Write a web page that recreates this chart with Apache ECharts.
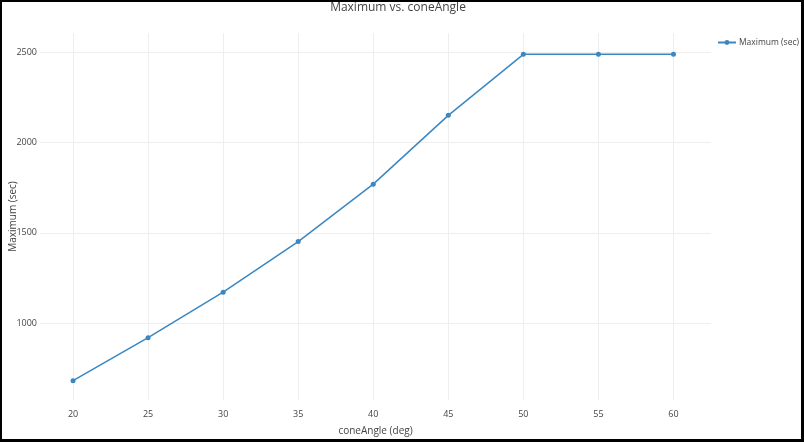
<!DOCTYPE html>
<html>
<head>
<meta charset="utf-8">
<script src="https://cdn.jsdelivr.net/npm/echarts@6/dist/echarts.min.js"></script>
<style>
  html, body { margin: 0; padding: 0; background: #fff; }
  #frame { width: 804px; height: 442px; box-sizing: border-box; border-style: solid; border-color: #000; border-width: 2px 3px 3px 2px; }
  #chart { width: 799px; height: 437px; }
</style>
</head>
<body>
<div id="frame"><div id="chart"></div></div>
<script>
var coneAngle = [20, 25, 30, 35, 40, 45, 50, 55, 60];
var maximumSec = [682, 920, 1172, 1452, 1770, 2151, 2489, 2489, 2489];
var xTicks = [20, 25, 30, 35, 40, 45, 50, 55, 60];
var yTicks = [1000, 1500, 2000, 2500];

var chart = echarts.init(document.getElementById('chart'));

var seriesData = [];
for (var i = 0; i < coneAngle.length; i++) {
  seriesData.push([coneAngle[i], maximumSec[i]]);
}

var plainNum = function (v) { return String(v); };

var option = {
  animation: false,
  textStyle: { fontFamily: 'Open Sans' },
  title: {
    text: 'Maximum vs. coneAngle',
    left: 396,
    textAlign: 'center',
    top: 0,
    padding: [0, 0, 0, 0],
    textStyle: { fontSize: 12, fontWeight: 'normal', color: '#444' }
  },
  legend: {
    data: ['Maximum (sec)'],
    right: 0,
    top: 36,
    padding: [0, 2, 0, 0],
    itemWidth: 18,
    itemHeight: 6,
    itemGap: 4,
    textStyle: { fontSize: 8.5, color: '#444', padding: [0, 0, 0, -2] }
  },
  grid: {
    left: 38,
    right: 90,
    top: 31,
    bottom: 39,
    containLabel: false,
    outerBoundsMode: 'none'
  },
  xAxis: {
    type: 'value',
    min: 17.8,
    max: 62.5,
    name: 'coneAngle (deg)',
    nameLocation: 'middle',
    nameGap: 26,
    nameMoveOverlap: false,
    nameTextStyle: { fontSize: 10, color: '#444' },
    axisLine: { show: false },
    axisTick: { show: false, customValues: xTicks },
    axisLabel: { customValues: xTicks, fontSize: 9, color: '#444', margin: 10, formatter: plainNum },
    splitLine: { show: true, lineStyle: { color: '#eee', width: 1 } }
  },
  yAxis: {
    type: 'value',
    min: 575,
    max: 2607,
    name: 'Maximum (sec)',
    nameLocation: 'middle',
    nameGap: 22,
    nameMoveOverlap: false,
    nameTextStyle: { fontSize: 10, color: '#444' },
    axisLine: { show: false },
    axisTick: { show: false, customValues: yTicks },
    axisLabel: { customValues: yTicks, fontSize: 9, color: '#444', margin: 3, formatter: plainNum },
    splitLine: { show: true, lineStyle: { color: '#eee', width: 1 } }
  },
  series: [{
    name: 'Maximum (sec)',
    type: 'line',
    data: seriesData,
    symbol: 'circle',
    symbolSize: 5,
    itemStyle: { color: '#3a87c2' },
    lineStyle: { width: 1.5, color: '#3a87c2' }
  }]
};

chart.setOption(option);
</script>
</body>
</html>
